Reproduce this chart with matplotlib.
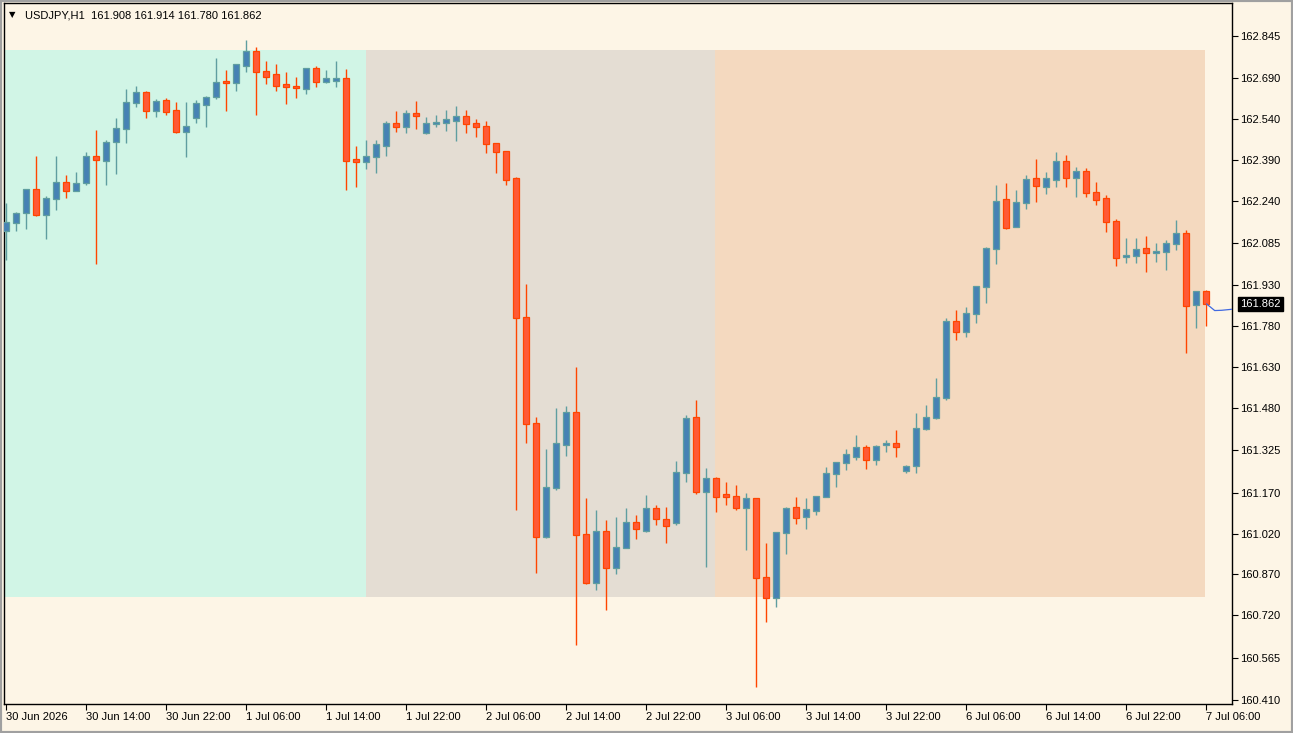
# usdjpy h1 candlestick chart in the mt4 style with three shaded boxes
# comments are lowercase no punctuation

import numpy as np
import matplotlib.pyplot as plt
from matplotlib.patches import Rectangle

plt.rcParams['font.family'] = ['Liberation Sans', 'DejaVu Sans']

# hourly bars from 30 jun 06:00 to 7 jul 06:00
opens = [
    162.131, 162.158, 162.195, 162.283, 162.190, 162.246, 162.310, 162.278, 162.305, 162.406,
    162.388, 162.455, 162.503, 162.598, 162.640, 162.571, 162.610, 162.573, 162.492, 162.543,
    162.591, 162.621, 162.679, 162.674, 162.736, 162.791, 162.718, 162.705, 162.668, 162.663,
    162.650, 162.728, 162.677, 162.681, 162.690, 162.393, 162.383, 162.401, 162.443, 162.525,
    162.511, 162.562, 162.488, 162.521, 162.525, 162.534, 162.553, 162.526, 162.516, 162.452,
    162.424, 162.323, 161.814, 161.425, 161.009, 161.186, 161.345, 161.465, 161.018, 160.838,
    161.031, 160.893, 160.966, 161.062, 161.031, 161.113, 161.073, 161.058, 161.241, 161.447,
    161.174, 161.223, 161.164, 161.158, 161.113, 161.150, 160.860, 160.783, 161.021, 161.117,
    161.082, 161.104, 161.153, 161.238, 161.279, 161.302, 161.337, 161.289, 161.344, 161.351,
    161.251, 161.269, 161.403, 161.443, 161.516, 161.801, 161.758, 161.824, 161.926, 162.063,
    162.246, 162.143, 162.232, 162.323, 162.291, 162.318, 162.388, 162.323, 162.351, 162.272,
    162.250, 162.168, 162.036, 162.039, 162.066, 162.049, 162.054, 162.081, 162.121, 161.860,
    161.908]
highs = [
    162.233, 162.200, 162.284, 162.405, 162.258, 162.405, 162.335, 162.345, 162.419, 162.500,
    162.464, 162.543, 162.651, 162.662, 162.643, 162.613, 162.619, 162.602, 162.602, 162.610,
    162.624, 162.765, 162.720, 162.743, 162.830, 162.804, 162.753, 162.742, 162.713, 162.694,
    162.728, 162.736, 162.720, 162.752, 162.724, 162.442, 162.464, 162.464, 162.533, 162.570,
    162.574, 162.607, 162.547, 162.555, 162.574, 162.588, 162.574, 162.542, 162.533, 162.452,
    162.424, 162.327, 161.936, 161.447, 161.331, 161.480, 161.488, 161.630, 161.150, 161.107,
    161.070, 161.080, 161.113, 161.089, 161.162, 161.125, 161.117, 161.286, 161.455, 161.510,
    161.260, 161.229, 161.208, 161.199, 161.168, 161.150, 160.985, 161.025, 161.117, 161.153,
    161.150, 161.158, 161.263, 161.282, 161.331, 161.382, 161.345, 161.345, 161.362, 161.400,
    161.272, 161.461, 161.492, 161.591, 161.811, 161.840, 161.850, 161.929, 162.072, 162.299,
    162.305, 162.280, 162.335, 162.394, 162.345, 162.419, 162.409, 162.366, 162.360, 162.309,
    162.262, 162.174, 162.103, 162.103, 162.112, 162.085, 162.097, 162.170, 162.134, 161.911,
    161.914]
lows = [
    162.024, 162.131, 162.137, 162.186, 162.101, 162.206, 162.252, 162.276, 162.298, 162.009,
    162.298, 162.339, 162.454, 162.586, 162.543, 162.547, 162.555, 162.490, 162.402, 162.527,
    162.510, 162.614, 162.570, 162.644, 162.714, 162.555, 162.668, 162.644, 162.596, 162.619,
    162.631, 162.657, 162.672, 162.657, 162.280, 162.292, 162.357, 162.344, 162.406, 162.494,
    162.490, 162.504, 162.486, 162.512, 162.498, 162.461, 162.490, 162.476, 162.417, 162.344,
    162.298, 161.107, 161.354, 160.877, 161.005, 161.180, 161.305, 160.612, 160.835, 160.814,
    160.740, 160.872, 160.966, 161.000, 161.027, 161.052, 160.987, 161.052, 161.211, 161.166,
    160.899, 161.101, 161.124, 161.107, 160.960, 160.459, 160.694, 160.752, 160.946, 161.056,
    161.037, 161.088, 161.153, 161.190, 161.254, 161.290, 161.257, 161.272, 161.321, 161.302,
    161.244, 161.244, 161.400, 161.439, 161.510, 161.730, 161.742, 161.794, 161.867, 162.009,
    162.137, 162.143, 162.211, 162.237, 162.266, 162.290, 162.292, 162.256, 162.256, 162.224,
    162.127, 162.003, 162.014, 162.014, 161.981, 162.017, 161.987, 162.060, 161.681, 161.775,
    161.780]
closes = [
    162.162, 162.195, 162.283, 162.190, 162.250, 162.310, 162.278, 162.305, 162.406, 162.391,
    162.455, 162.507, 162.602, 162.640, 162.571, 162.608, 162.565, 162.492, 162.516, 162.598,
    162.621, 162.676, 162.674, 162.741, 162.791, 162.714, 162.695, 162.663, 162.658, 162.654,
    162.728, 162.677, 162.690, 162.691, 162.388, 162.384, 162.405, 162.448, 162.525, 162.511,
    162.562, 162.553, 162.525, 162.530, 162.540, 162.553, 162.521, 162.511, 162.448, 162.421,
    162.318, 161.810, 161.421, 161.009, 161.190, 161.351, 161.465, 161.013, 160.838, 161.031,
    160.893, 160.970, 161.062, 161.036, 161.113, 161.073, 161.049, 161.245, 161.443, 161.172,
    161.223, 161.156, 161.156, 161.113, 161.150, 160.856, 160.783, 161.025, 161.113, 161.079,
    161.109, 161.158, 161.241, 161.282, 161.311, 161.337, 161.289, 161.342, 161.351, 161.339,
    161.268, 161.406, 161.447, 161.520, 161.801, 161.758, 161.828, 161.929, 162.066, 162.241,
    162.142, 162.235, 162.320, 162.296, 162.323, 162.388, 162.323, 162.351, 162.268, 162.245,
    162.164, 162.030, 162.043, 162.063, 162.048, 162.057, 162.085, 162.121, 161.856, 161.911,
    161.862]

# session boxes in bar index units
box_start = [-5.0, 36.0, 70.9]
box_end = [36.0, 70.9, 119.9]
box_top = 162.794
box_bottom = 160.788
box_colors = ['#d1f5e6', '#e4ddd3', '#f4d9bf']

# short indicator line past the last bar
proj_x = [120.1, 120.9, 121.6, 122.7]
proj_y = [161.862, 161.838, 161.839, 161.843]

xtick_idx = [0, 8, 16, 24, 32, 40, 48, 56, 64, 72, 80, 88, 96, 104, 112, 120]
xtick_labels = ['30 Jun 2026', '30 Jun 14:00', '30 Jun 22:00', '1 Jul 06:00',
                '1 Jul 14:00', '1 Jul 22:00', '2 Jul 06:00', '2 Jul 14:00',
                '2 Jul 22:00', '3 Jul 06:00', '3 Jul 14:00', '3 Jul 22:00',
                '6 Jul 06:00', '6 Jul 14:00', '6 Jul 22:00', '7 Jul 06:00']
ytick_vals = [162.845, 162.690, 162.540, 162.390, 162.240, 162.085, 161.930, 161.780,
              161.630, 161.480, 161.325, 161.170, 161.020, 160.870, 160.720, 160.565, 160.410]

title = 'USDJPY,H1  161.908 161.914 161.780 161.862'
last_price = 161.862

BG = '#fdf5e6'
BULL_FILL = '#4682b4'
BULL_EDGE = '#5f9ea0'
BEAR_FILL = '#ff5a36'
BEAR_EDGE = '#ff4500'

W, H = 1293, 733
fig = plt.figure(figsize=(W / 100, H / 100), dpi=100, facecolor=BG)
ax = fig.add_axes([4 / W, 29 / H, 1228 / W, 701 / H])
ax.set_facecolor(BG)
ax.set_xlim(-0.17, 122.63)
ax.set_ylim(160.395, 162.966)

for x0, x1, c in zip(box_start, box_end, box_colors):
    ax.add_patch(Rectangle((x0, box_bottom), x1 - x0, box_top - box_bottom,
                           facecolor=c, edgecolor='none', zorder=0))

o = np.array(opens)
h = np.array(highs)
l = np.array(lows)
c = np.array(closes)
x = np.arange(len(o))
up = c >= o

wick_cols = np.where(up, BULL_EDGE, BEAR_EDGE)
ax.vlines(x, l, h, colors=wick_cols, lw=1.0, zorder=2)

bottoms = np.minimum(o, c)
heights = np.maximum(np.abs(c - o), 0.002)
ax.bar(x[up], heights[up], bottom=bottoms[up], width=0.6,
       color=BULL_FILL, edgecolor=BULL_EDGE, linewidth=0.9, zorder=3)
ax.bar(x[~up], heights[~up], bottom=bottoms[~up], width=0.6,
       color=BEAR_FILL, edgecolor=BEAR_EDGE, linewidth=0.9, zorder=3)

ax.plot(proj_x, proj_y, color='#4169e1', lw=0.9, zorder=3)

# axes and ticks
for s in ax.spines.values():
    s.set_color('black')
    s.set_linewidth(1.0)
ax.yaxis.tick_right()
ax.set_yticks(ytick_vals)
ax.set_yticklabels([f'{v:.3f}' for v in ytick_vals])
ax.set_xticks(xtick_idx)
ax.set_xticklabels(xtick_labels)
for lbl in ax.get_xticklabels():
    lbl.set_ha('left')
ax.tick_params(axis='both', direction='out', length=4, width=0.8,
               labelsize=8, colors='black', pad=2)

# last price tag
ax.text(1.0065, last_price, f'{last_price:.3f}', transform=ax.get_yaxis_transform(),
        ha='left', va='center', fontsize=8, color='white', clip_on=False, zorder=5,
        bbox=dict(boxstyle='square,pad=0.2', facecolor='black', edgecolor='black'))

# title line
fig.text(9 / W, 1 - 15 / H, '\u25bc', fontsize=6, va='center', ha='left',
         family=['DejaVu Sans'])
fig.text(25 / W, 1 - 15 / H, title, fontsize=8, va='center', ha='left')

# window frame
fig.patches.append(Rectangle((0, 0), 1, 1, transform=fig.transFigure, fill=False,
                             edgecolor='#a0a0a0', linewidth=3))

fig.savefig('out.png', dpi=100, facecolor=BG)
